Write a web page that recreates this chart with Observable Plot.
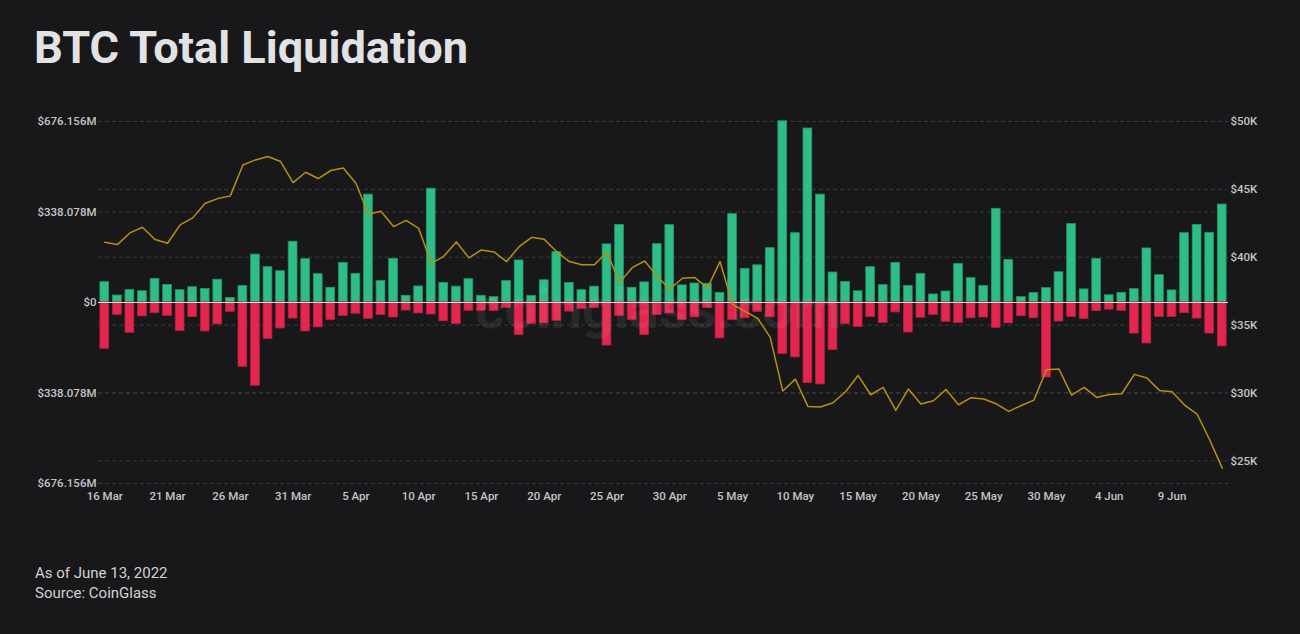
<!DOCTYPE html>
<html><head><meta charset="utf-8">
<script src="https://cdn.jsdelivr.net/npm/d3@7"></script>
<script src="https://cdn.jsdelivr.net/npm/@observablehq/plot@0.6"></script>
<style>
html,body{margin:0;padding:0;background:#18181a;width:1300px;height:634px;overflow:hidden;font-family:Roboto,"Noto Sans",sans-serif}
#title{position:absolute;left:34px;top:23px;font-size:44px;line-height:50px;font-weight:700;color:#e2e2e4;font-family:"Roboto",sans-serif;white-space:nowrap;transform-origin:0 0}
#chart{position:absolute;left:0;top:100px}
#foot{position:absolute;left:35px;top:563px;font-size:15px;line-height:20px;color:#d2d2d4}
</style></head><body>
<div id="title">BTC Total Liquidation</div>
<div id="chart"></div>
<div id="foot">As of June 13, 2022<br>Source: CoinGlass</div>
<script>
// Daily liquidations (USD millions), 16 Mar 2022 – 13 Jun 2022
const startDate = "2022-03-16";
const longs = [76,26,47,42,88,66,46,57,51,85,17,62,179,132,117,227,162,106,55,148,107,403,80,163,25,60,
  425,73,59,87,25,20,80,157,25,83,188,73,46,59,217,290,55,75,218,289,64,71,70,36,330,126,
  139,203,677,259,650,403,112,77,42,132,65,148,62,107,30,41,144,91,62,350,159,20,35,54,113,293,
  49,163,27,36,50,202,102,45,259,290,260,366];
const shorts = [173,46,113,52,40,50,107,54,108,82,35,240,311,136,97,60,108,93,66,50,42,61,47,56,30,41,
  45,70,81,31,31,32,20,121,80,78,68,34,24,21,161,50,66,122,47,41,65,56,21,134,66,59,
  35,55,192,205,301,306,178,81,91,54,77,37,112,57,46,72,77,59,56,95,78,51,59,280,71,54,
  62,32,27,31,116,153,54,54,40,60,116,164];
const price = [41100,40930,41790,42210,41300,41030,42380,42900,43980,44320,44520,46800,47170,47420,47050,45500,46260,45800,46390,46580,45450,43170,43390,42260,42720,42130,
  39550,40070,41130,39950,40540,40390,39680,40780,41470,41320,40410,39680,39450,39450,40390,38130,39230,39720,38590,37640,38450,38500,37730,39680,36530,36010,
  35500,34100,30140,31020,29010,28960,29280,30090,31290,29870,30410,28710,30290,29180,29430,30260,29130,29650,29550,29200,28640,29080,29470,31710,31760,29840,
  30410,29670,29890,29940,31370,31100,30190,30090,29110,28440,26550,24460];

const leftTicks = [-676.156, -338.078, 0, 338.078, 676.156];
const rightTicks = [25000, 30000, 35000, 40000, 45000, 50000];

const day0 = new Date(startDate);
const dates = longs.map((_, i) => d3.utcDay.offset(day0, i));
const data = dates.map((d, i) => ({date: d, long: longs[i], short: -shorts[i], price: price[i]}));

const yMax = 676.156, pMin = 23330, pMax = 50000;
const toY = p => (p - pMin) / (pMax - pMin) * 2 * yMax - yMax;
const fromY = v => (v + yMax) / (2 * yMax) * (pMax - pMin) + pMin;
const fmtDate = d3.utcFormat("%-d %b");

const GREEN = "#2ebd85", RED = "#e2264d", GOLD = "#b8900f", GRID = "#3a3a3c";

const plot = Plot.plot({
  width: 1300, height: 410,
  marginLeft: 98, marginRight: 72, marginTop: 21, marginBottom: 27,
  style: {background: "transparent", color: "#c4c4c6", fontSize: "11.5px", fontFamily: "Roboto, 'Noto Sans', sans-serif", fontWeight: 500},
  x: {type: "band", domain: dates, paddingInner: 0.3, paddingOuter: 0.15},
  y: {domain: [-yMax, yMax]},
  marks: [
    Plot.gridY(leftTicks, {stroke: GRID, strokeOpacity: 1, strokeDasharray: "4,3"}),
    Plot.gridY(rightTicks.map(toY), {stroke: GRID, strokeOpacity: 1, strokeDasharray: "4,3"}),
    Plot.barY(data, {x: "date", y: "long", fill: GREEN, stroke: "#23946a", strokeWidth: 0.8}),
    Plot.barY(data, {x: "date", y: "short", fill: RED, stroke: "#b51f3e", strokeWidth: 0.8}),
    Plot.ruleY([0], {stroke: "#d8d8d8", strokeWidth: 1.2}),
    Plot.line(data, {x: "date", y: d => toY(d.price), stroke: GOLD, strokeWidth: 1.5}),
    Plot.text(["coinglass.com"], {frameAnchor: "middle", text: d => d, dx: -5, dy: 8, fontSize: 56, fontWeight: 700, fill: "#ffffff", fillOpacity: 0.07}),
    Plot.axisY(leftTicks, {anchor: "left", tickSize: 0, tickPadding: 2, tickFormat: v => v === 0 ? "$0" : "$" + Math.abs(v).toFixed(3) + "M"}),
    Plot.axisY(rightTicks.map(toY), {anchor: "right", tickSize: 0, tickPadding: 2, tickFormat: v => "$" + Math.round(fromY(v) / 1000) + "K"}),
    Plot.axisX(dates.filter((d, i) => i % 5 === 0), {tickSize: 0, tickPadding: 8, tickFormat: fmtDate})
  ]
});
document.getElementById("chart").appendChild(plot);
const t = document.getElementById("title");
t.style.transform = `scaleX(${434 / t.getBoundingClientRect().width})`;
</script>
</body></html>
